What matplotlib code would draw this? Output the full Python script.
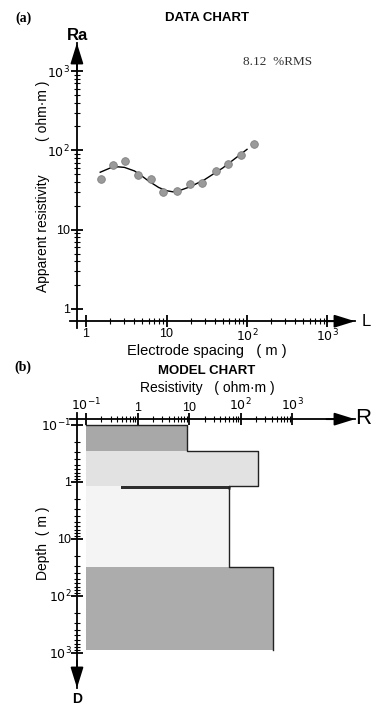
import numpy as np
import matplotlib
matplotlib.use("Agg")
import matplotlib.pyplot as plt
from matplotlib.ticker import FixedLocator, NullFormatter

plt.rcParams['font.family'] = ['Liberation Sans', 'DejaVu Sans']

# ---------------- data chart ----------------
spacing_obs = [1.52, 2.14, 3.05, 4.47, 6.4, 9.1, 13.4, 19.6, 27.3, 41, 58.6, 83.5, 122]
rho_obs = [44, 65, 73, 49, 43, 30, 30.5, 38, 39, 55, 68, 87, 120]

spacing_fit = [1.5, 2, 2.5, 3, 4, 5, 6, 8, 10, 12, 15, 20, 30, 50, 70, 100]
rho_fit = [53, 60, 62, 61, 55, 47, 41, 34, 31, 30, 31.5, 35, 43, 60, 78, 103]

rms_text = "8.12  %RMS"

# ---------------- model chart ----------------
layer_top = [0.1, 0.29, 1.17, 1.17, 32]
layer_bottom = [0.29, 1.17, 1.35, 32, 900]
layer_left = [0.1, 0.1, 0.47, 0.1, 0.1]
layer_res = [9, 220, 60, 60, 430]
layer_color = ['#a8a8a8', '#e2e2e2', '#2e2e2e', '#f4f4f4', '#acacac']
layer_z = [1, 1, 1.5, 1, 1]

dec_ticks = [1, 10, 100, 1000]
dec_labels = ['1', '10', r'$10^2$', r'$10^3$']
r_ticks = [0.1, 1, 10, 100, 1000]
r_labels = [r'$10^{-1}$', '1', '10', r'$10^2$', r'$10^3$']
d_ticks = [0.1, 1, 10, 100, 1000]
d_labels = [r'$10^{-1}$', '1', '10', r'$10^2$', r'$10^3$']

W, H = 371, 706
fig = plt.figure(figsize=(W / 100, H / 100), dpi=100)


def frac(x0, y0, x1, y1):
    # pixel box (top-left origin) -> figure fraction rect
    return [x0 / W, 1 - y1 / H, (x1 - x0) / W, (y1 - y0) / H]


def minor_list(lo, hi):
    out = []
    for e in range(lo, hi):
        out += [m * 10.0 ** e for m in range(2, 10)]
    return out


arrow = dict(arrowstyle='-|>,head_length=0.9,head_width=0.28', color='k',
             lw=1.3, mutation_scale=14, shrinkA=0, shrinkB=0)

# ---- (a) ----
ax1 = fig.add_axes(frac(70, 43, 355, 328))
ax1.set_xscale('log')
ax1.set_yscale('log')
ax1.set_xlim(0.632, 2197)
ax1.set_ylim(0.575, 2260)
for s in ['top', 'right']:
    ax1.spines[s].set_visible(False)
ax1.spines['left'].set_position(('data', 0.77))
ax1.spines['bottom'].set_position(('data', 0.70))
for s in ['left', 'bottom']:
    ax1.spines[s].set_linewidth(1.3)
ax1.patch.set_alpha(0)

ax1.xaxis.set_major_locator(FixedLocator(dec_ticks))
ax1.xaxis.set_minor_locator(FixedLocator(minor_list(0, 3)))
ax1.set_xticklabels(dec_labels)
ax1.xaxis.set_minor_formatter(NullFormatter())
ax1.yaxis.set_major_locator(FixedLocator(dec_ticks))
ax1.yaxis.set_minor_locator(FixedLocator(minor_list(0, 3)))
ax1.set_yticklabels(dec_labels)
ax1.yaxis.set_minor_formatter(NullFormatter())
ax1.tick_params(which='major', direction='inout', length=8, width=1.3,
                labelsize=9, pad=1)
ax1.tick_params(which='minor', direction='inout', length=4, width=0.8)

ax1.plot(spacing_fit, rho_fit, color='k', lw=1.0)
ax1.plot(spacing_obs, rho_obs, 'o', ms=5.5, mfc='#9a9a9a', mec='#7f7f7f', mew=0.6)

ax1.annotate('', xy=(0.77, 1.0), xytext=(0.77, 0.9),
             xycoords=('data', 'axes fraction'), arrowprops=arrow)
ax1.annotate('', xy=(1.0, 0.70), xytext=(0.9, 0.70),
             xycoords=('axes fraction', 'data'), arrowprops=arrow)

fig.text(23 / W, 1 - 18 / H, '(a)', family='Liberation Serif', weight='bold',
         fontsize=10, ha='center', va='center')
fig.text(207 / W, 1 - 18 / H, 'DATA CHART', weight='bold', fontsize=9.5,
         ha='center', va='center')
fig.text(278 / W, 1 - 62 / H, rms_text, family='Liberation Serif',
         fontsize=9.5, ha='center', va='center', color='#333333')
fig.text(78 / W, 1 - 35 / H, 'Ra', weight='bold', fontsize=12,
         ha='center', va='center')
fig.text(366 / W, 1 - 321 / H, 'L', fontsize=12, ha='center', va='center')
fig.text(43 / W, 1 - 233 / H, 'Apparent resistivity',
         fontsize=10, rotation=90, ha='center', va='center')
fig.text(43 / W, 1 - 111 / H, '( ohm·m )',
         fontsize=10, rotation=90, ha='center', va='center')
fig.text(207 / W, 1 - 351 / H, 'Electrode spacing   ( m )', fontsize=10.5,
         ha='center', va='center')

# ---- (b) ----
ax2 = fig.add_axes(frac(70, 413, 355, 688))
ax2.set_xscale('log')
ax2.set_yscale('log')
ax2.set_xlim(0.049, 16600)
ax2.set_ylim(4170, 0.0624)
ax2.patch.set_alpha(0)
for s in ['bottom', 'right']:
    ax2.spines[s].set_visible(False)
ax2.spines['left'].set_position(('data', 0.067))
ax2.spines['top'].set_position(('data', 0.08))
for s in ['left', 'top']:
    ax2.spines[s].set_linewidth(1.3)

for t, b, l, r, c, z in zip(layer_top, layer_bottom, layer_left, layer_res,
                            layer_color, layer_z):
    ax2.fill_betweenx([t, b], l, r, color=c, lw=0, zorder=z)

# outline of model curve
ox = [layer_left[0]]
oy = [layer_top[0]]
for t, b, r in zip(layer_top, layer_bottom, layer_res):
    ox += [r, r]
    oy += [t, b]
ax2.plot(ox, oy, color='#222222', lw=1.0, zorder=2)

ax2.xaxis.tick_top()
ax2.xaxis.set_major_locator(FixedLocator(r_ticks))
ax2.xaxis.set_minor_locator(FixedLocator(minor_list(-1, 3)))
ax2.set_xticklabels(r_labels)
ax2.xaxis.set_minor_formatter(NullFormatter())
ax2.yaxis.set_major_locator(FixedLocator(d_ticks))
ax2.yaxis.set_minor_locator(FixedLocator(minor_list(-1, 3)))
ax2.set_yticklabels(d_labels)
ax2.yaxis.set_minor_formatter(NullFormatter())
ax2.tick_params(which='major', direction='inout', length=8, width=1.3,
                labelsize=9, pad=0)
ax2.tick_params(which='minor', direction='inout', length=4, width=0.8)

ax2.annotate('', xy=(1.0, 0.08), xytext=(0.9, 0.08),
             xycoords=('axes fraction', 'data'), arrowprops=arrow)
ax2.annotate('', xy=(0.067, 0.0), xytext=(0.067, 0.1),
             xycoords=('data', 'axes fraction'), arrowprops=arrow)

fig.text(23 / W, 1 - 367 / H, '(b)', family='Liberation Serif', weight='bold',
         fontsize=10, ha='center', va='center')
fig.text(207 / W, 1 - 371 / H, 'MODEL CHART', weight='bold', fontsize=9.5,
         ha='center', va='center')
fig.text(207 / W, 1 - 388 / H, 'Resistivity   ( ohm·m )', fontsize=10,
         ha='center', va='center')
fig.text(363 / W, 1 - 419 / H, 'R', fontsize=16, ha='center', va='center')
fig.text(77 / W, 1 - 699 / H, 'D', weight='bold', fontsize=10,
         ha='center', va='center')
fig.text(43 / W, 1 - 543 / H, 'Depth  ( m )', fontsize=10, rotation=90,
         ha='center', va='center')

fig.savefig('out.png', dpi=100)
